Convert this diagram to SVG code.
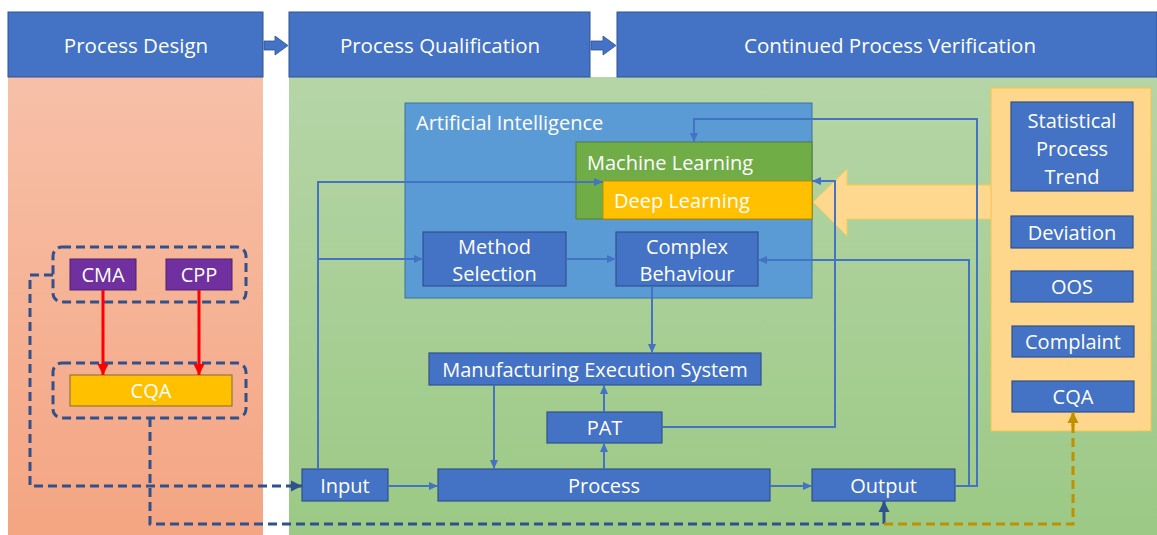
<svg xmlns="http://www.w3.org/2000/svg" width="1157" height="535" viewBox="0 0 1157 535">
<defs>
<linearGradient id="gSalmon" x1="0" y1="0" x2="0" y2="1"><stop offset="0" stop-color="#F7C0A8"/><stop offset="1" stop-color="#F4A582"/></linearGradient>
<linearGradient id="gGreen" x1="0" y1="0" x2="0" y2="1"><stop offset="0" stop-color="#B5D5A7"/><stop offset="1" stop-color="#9CC985"/></linearGradient>
<marker id="aBlue" markerUnits="userSpaceOnUse" markerWidth="10" markerHeight="10" refX="9" refY="5" orient="auto"><path d="M0,1 L9,5 L0,9 z" fill="#4472C4"/></marker>
<marker id="aDark" markerUnits="userSpaceOnUse" markerWidth="12" markerHeight="12" refX="11" refY="6" orient="auto"><path d="M0,0.5 L11,6 L0,11.5 z" fill="#2F528F"/></marker>
<marker id="aRed" markerUnits="userSpaceOnUse" markerWidth="12" markerHeight="12" refX="11" refY="6" orient="auto"><path d="M0,0.5 L11,6 L0,11.5 z" fill="#FF0000"/></marker>
<marker id="aGold" markerUnits="userSpaceOnUse" markerWidth="12" markerHeight="12" refX="11" refY="6" orient="auto"><path d="M0,0.5 L11,6 L0,11.5 z" fill="#BF9000"/></marker>
</defs>
<style>
.hdr{fill:#4472C4;stroke:#2F528F;stroke-width:1}
.box{fill:#4472C4;stroke:#2F528F;stroke-width:1.2}
.t{font-family:"Open Sans","Liberation Sans",sans-serif;fill:#ffffff;font-size:20px;text-anchor:middle;dominant-baseline:central}
.tl{font-family:"Open Sans","Liberation Sans",sans-serif;fill:#ffffff;font-size:20px;dominant-baseline:central}
.h{font-size:20.5px}
.c{fill:none;stroke:#4472C4;stroke-width:2}
.d{fill:none;stroke:#2F528F;stroke-width:3;stroke-dasharray:9 5}
.grp{fill:none;stroke:#2F528F;stroke-width:3;stroke-dasharray:9 5}
</style>
<rect x="0" y="0" width="1157" height="535" fill="#ffffff"/>
<g id="panel-design"><rect x="8" y="77" width="255" height="458" fill="url(#gSalmon)"/></g>
<g id="panel-green"><rect x="289" y="77" width="868" height="458" fill="url(#gGreen)"/></g>
<g id="hdr-design"><rect class="hdr" x="8" y="12" width="255" height="65"/><text class="t h" x="136" y="45">Process Design</text></g>
<g id="hdr-qual"><rect class="hdr" x="289" y="12" width="301" height="65"/><text class="t h" x="440" y="45">Process Qualification</text></g>
<g id="hdr-cpv"><rect class="hdr" x="617" y="12" width="540" height="65"/><text class="t h" x="890" y="45">Continued Process Verification</text></g>
<g id="hdr-arrows">
<path d="M264,41 L275,41 L275,36 L288,45.5 L275,55 L275,50 L264,50 z" fill="#4472C4" stroke="#2F528F" stroke-width="0.8"/>
<path d="M591,41 L603,41 L603,36 L616,45.5 L603,55 L603,50 L591,50 z" fill="#4472C4" stroke="#2F528F" stroke-width="0.8"/>
</g>
<g id="ai"><rect x="405" y="103" width="407" height="195" fill="#5B9BD5" stroke="#41719C" stroke-width="1"/><text class="tl" x="416" y="122">Artificial Intelligence</text></g>
<g id="ml"><rect x="576" y="142" width="236" height="77" fill="#70AD47" stroke="#507E32" stroke-width="1"/><text class="tl" x="587" y="162">Machine Learning</text></g>
<g id="dl"><rect x="603" y="181" width="209" height="38" fill="#FFC000" stroke="#BC8C00" stroke-width="1"/><text class="tl" x="614" y="200">Deep Learning</text></g>
<g id="method"><rect class="box" x="423" y="232" width="143" height="54"/><text class="t" x="494.5" y="246">Method</text><text class="t" x="494.5" y="273">Selection</text></g>
<g id="complex"><rect class="box" x="616" y="232" width="142" height="54"/><text class="t" x="687" y="246">Complex</text><text class="t" x="687" y="273">Behaviour</text></g>
<g id="mes"><rect class="box" x="429" y="353" width="332" height="32"/><text class="t" x="595" y="369">Manufacturing Execution System</text></g>
<g id="pat"><rect class="box" x="547" y="412" width="115" height="31"/><text class="t" x="604.5" y="427.5">PAT</text></g>
<g id="input"><rect class="box" x="302" y="469" width="86" height="32"/><text class="t" x="345" y="485">Input</text></g>
<g id="process"><rect class="box" x="438" y="469" width="332" height="32"/><text class="t" x="604" y="485">Process</text></g>
<g id="output"><rect class="box" x="812" y="469" width="143" height="32"/><text class="t" x="883.5" y="485">Output</text></g>
<g id="cpv-panel"><rect x="991" y="88" width="160" height="343" fill="#FFD78C" stroke="#F4C542" stroke-width="1"/></g>
<g id="big-arrow"><path d="M991,185 L847,185 L847,169 L813,202 L847,236 L847,219 L991,219 z" fill="#FFD88F" stroke="#F6CB57" stroke-width="1"/></g>
<g id="spt"><rect class="box" x="1011" y="102" width="122" height="89"/><text class="t" x="1072" y="120">Statistical</text><text class="t" x="1072" y="148">Process</text><text class="t" x="1072" y="176">Trend</text></g>
<g id="deviation"><rect class="box" x="1011" y="216" width="122" height="32"/><text class="t" x="1072" y="232">Deviation</text></g>
<g id="oos"><rect class="box" x="1011" y="271" width="122" height="31"/><text class="t" x="1072" y="286.5">OOS</text></g>
<g id="complaint"><rect class="box" x="1012" y="326" width="122" height="31"/><text class="t" x="1073" y="341.5">Complaint</text></g>
<g id="cqa-right"><rect class="box" x="1012" y="381" width="122" height="31"/><text class="t" x="1073" y="396.5">CQA</text></g>
<g id="group-inputs"><rect class="grp" x="53" y="247" width="193" height="55" rx="9"/></g>
<g id="cma"><rect x="70" y="259" width="66" height="31" fill="#7030A0" stroke="#4F2270" stroke-width="1"/><text class="t" x="103" y="274.5">CMA</text></g>
<g id="cpp"><rect x="166" y="259" width="66" height="31" fill="#7030A0" stroke="#4F2270" stroke-width="1"/><text class="t" x="199" y="274.5">CPP</text></g>
<g id="group-cqa"><rect class="grp" x="53" y="363" width="193" height="55" rx="9"/></g>
<g id="cqa-left"><rect x="70" y="375" width="162" height="31" fill="#FFC000" stroke="#7F6B3A" stroke-width="1"/><text class="t" x="151" y="390.5">CQA</text></g>
<g id="connectors">
<line x1="103" y1="290" x2="103" y2="375" stroke="#FF0000" stroke-width="3" marker-end="url(#aRed)"/>
<line x1="199" y1="290" x2="199" y2="375" stroke="#FF0000" stroke-width="3" marker-end="url(#aRed)"/>
<path class="d" d="M53,275 L30,275 L30,486 L294,486"/>
<line x1="290" y1="486" x2="302" y2="486" stroke="#2F528F" stroke-width="3" marker-end="url(#aDark)"/>
<path class="d" d="M150,418 L150,524 L884,524"/>
<line x1="884" y1="524" x2="884" y2="501" stroke="#2F528F" stroke-width="3" marker-end="url(#aDark)"/>
<path d="M884,524 L1073,524 L1073,424" fill="none" stroke="#BF9000" stroke-width="3" stroke-dasharray="9 5"/>
<line x1="1073" y1="426" x2="1073" y2="412" stroke="#BF9000" stroke-width="3" marker-end="url(#aGold)"/>
<line class="c" x1="388" y1="486" x2="438" y2="486" marker-end="url(#aBlue)"/>
<line class="c" x1="770" y1="486" x2="812" y2="486" marker-end="url(#aBlue)"/>
<path class="c" d="M318,469 L318,182 L603,182" marker-end="url(#aBlue)"/>
<path class="c" d="M318,259 L423,259" marker-end="url(#aBlue)"/>
<line class="c" x1="566" y1="259" x2="616" y2="259" marker-end="url(#aBlue)"/>
<line class="c" x1="652" y1="286" x2="652" y2="353" marker-end="url(#aBlue)"/>
<line class="c" x1="494" y1="385" x2="494" y2="469" marker-end="url(#aBlue)"/>
<line class="c" x1="604" y1="469" x2="604" y2="443" marker-end="url(#aBlue)"/>
<line class="c" x1="604" y1="412" x2="604" y2="385" marker-end="url(#aBlue)"/>
<path class="c" d="M662,427 L835,427 L835,181 L812,181" marker-end="url(#aBlue)"/>
<path class="c" d="M955,486 L969,486 L969,260 L758,260" marker-end="url(#aBlue)"/>
<path class="c" d="M955,486 L977,486 L977,119 L694,119 L694,142" marker-end="url(#aBlue)"/>
</g>
</svg>
